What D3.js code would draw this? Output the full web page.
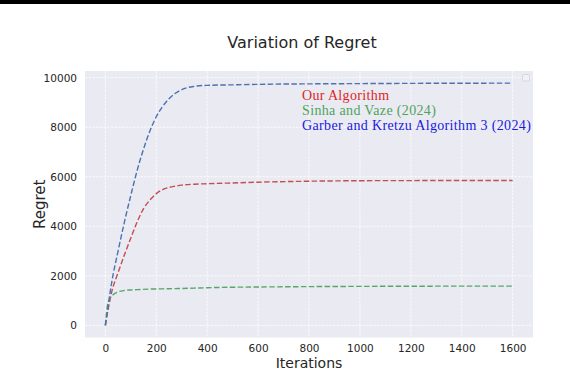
<!DOCTYPE html>
<html>
<head>
<meta charset="utf-8">
<script src="https://cdn.jsdelivr.net/npm/d3@7"></script>
<style>
	body { margin: 0; background: #fff; }
	svg { display: block; }
</style>
</head>
<body>
<div id="chart"></div>
<script>
/* regret vs iterations, three dashed curves */

// iterations sampled along the curves
const iterations = [0, 10, 25, 50, 75, 100, 125, 150, 175, 200, 225, 250, 275, 300, 350, 400, 500, 600, 800, 1000, 1200, 1400, 1600]
// Our Algorithm
const oursRegret = [0, 600, 1350, 2130, 2850, 3530, 4180, 4710, 5060, 5320, 5480, 5570, 5620, 5660, 5700, 5720, 5750, 5780, 5820, 5840, 5845, 5850, 5850]
// Sinha and Vaze (2024)
const sinhaRegret = [0, 900, 1180, 1350, 1410, 1430, 1445, 1455, 1465, 1470, 1475, 1480, 1485, 1490, 1505, 1520, 1540, 1550, 1565, 1575, 1580, 1585, 1585]
// Garber and Kretzu Algorithm 3 (2024)
const garberRegret = [0, 720, 1740, 3000, 4180, 5250, 6260, 7120, 7850, 8420, 8840, 9150, 9370, 9520, 9650, 9690, 9710, 9730, 9750, 9760, 9770, 9775, 9780]

const xTicks = [0, 200, 400, 600, 800, 1000, 1200, 1400, 1600]
const yTicks = [0, 2000, 4000, 6000, 8000, 10000]

const series = [
	{name: 'Our Algorithm', values: oursRegret, line: '#c44e52', text: '#e02424'},
	{name: 'Sinha and Vaze (2024)', values: sinhaRegret, line: '#55a868', text: '#4fa35c'},
	{name: 'Garber and Kretzu Algorithm 3 (2024)', values: garberRegret, line: '#4c72b0', text: '#1a1ae0'},
]

const width = 570
const height = 370
const plot = {left: 85, right: 533, top: 71, bottom: 337.5}

const svg = d3.select('#chart').append('svg')
	.attr('width', width)
	.attr('height', height)
	.style('font-family', '"DejaVu Sans", sans-serif')

// black strip along the top edge
svg.append('rect')
	.attr('x', 0).attr('y', 0)
	.attr('width', width).attr('height', 4)
	.attr('fill', '#000')

//matplotlib style 5% margins
function padded(ext) {
	const m = (ext[1] - ext[0]) * 0.05
	return [ext[0] - m, ext[1] + m]
}
const allValues = [].concat(oursRegret, sinhaRegret, garberRegret)
const x = d3.scaleLinear()
	.domain(padded(d3.extent(iterations)))
	.range([plot.left, plot.right])
const y = d3.scaleLinear()
	.domain(padded(d3.extent(allValues)))
	.range([plot.bottom, plot.top])

svg.append('rect')
	.attr('x', plot.left).attr('y', plot.top)
	.attr('width', plot.right - plot.left)
	.attr('height', plot.bottom - plot.top)
	.attr('fill', '#eaeaf2')

// grid
const gridG = svg.append('g')
	.attr('stroke', '#fff')
	.attr('stroke-width', 0.8)
	.attr('stroke-dasharray', '2.5,1.2')
gridG.selectAll('.gx').data(xTicks).enter().append('line')
	.attr('x1', d => x(d)).attr('x2', d => x(d))
	.attr('y1', plot.top).attr('y2', plot.bottom)
gridG.selectAll('.gy').data(yTicks).enter().append('line')
	.attr('x1', plot.left).attr('x2', plot.right)
	.attr('y1', d => y(d)).attr('y2', d => y(d))

// axes, no spines no tick marks
const xAxis = svg.append('g')
	.attr('transform', `translate(0,${plot.bottom})`)
	.call(d3.axisBottom(x).tickValues(xTicks).tickFormat(d3.format('d')).tickSize(0).tickPadding(7))
const yAxis = svg.append('g')
	.attr('transform', `translate(${plot.left},0)`)
	.call(d3.axisLeft(y).tickValues(yTicks).tickFormat(d3.format('d')).tickSize(0).tickPadding(8))
;[xAxis, yAxis].forEach(function(a) {
	a.select('.domain').remove()
	a.selectAll('text')
		.attr('fill', '#262626')
		.style('font-size', '10.5px')
		.style('font-family', '"DejaVu Sans", sans-serif')
})

// curves
const line = d3.line()
	.x((d, i) => x(iterations[i]))
	.y(d => y(d))
	.curve(d3.curveMonotoneX)
svg.append('g').selectAll('path')
	.data(series).enter().append('path')
	.attr('d', d => line(d.values))
	.attr('fill', 'none')
	.attr('stroke', d => d.line)
	.attr('stroke-width', 1.4)
	.attr('stroke-dasharray', '5.5,2.4')

// the (empty) legend box in the corner
svg.append('rect')
	.attr('x', 522.5).attr('y', 74.5)
	.attr('width', 7).attr('height', 6.5)
	.attr('rx', 1.2)
	.attr('fill', '#f0f0f5')
	.attr('stroke', '#d0d0d8')
	.attr('stroke-width', 0.8)

// labels written inside the plot
svg.append('g').selectAll('text')
	.data(series).enter().append('text')
	.attr('x', 302)
	.attr('y', (d, i) => 100 + i * 15)
	.attr('fill', d => d.text)
	.style('font-family', '"Liberation Serif", serif')
	.style('font-size', '14px')
	.style('letter-spacing', '0.35px')
	.text(d => d.name)

// title and axis labels
svg.append('text')
	.attr('x', 302).attr('y', 47.7)
	.attr('text-anchor', 'middle')
	.attr('fill', '#262626')
	.style('font-size', '16px')
	.text('Variation of Regret')
svg.append('text')
	.attr('x', (plot.left + plot.right) / 2).attr('y', 368)
	.attr('text-anchor', 'middle')
	.attr('fill', '#262626')
	.style('font-size', '14px')
	.text('Iterations')
svg.append('text')
	.attr('transform', `translate(45,${(plot.top + plot.bottom) / 2}) rotate(-90)`)
	.attr('text-anchor', 'middle')
	.attr('fill', '#262626')
	.style('font-size', '15px')
	.text('Regret')
</script>
</body>
</html>
